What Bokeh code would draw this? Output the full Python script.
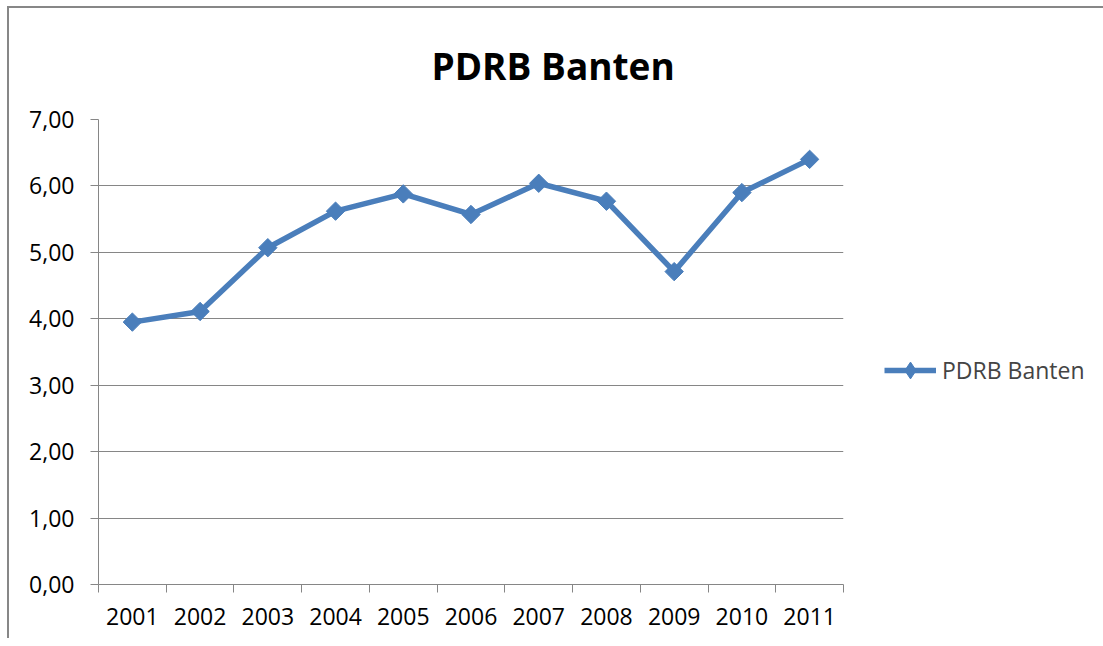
from bokeh.plotting import figure
from bokeh.models import Range1d, FixedTicker, LinearAxis, Legend, LegendItem, Title, Grid
from bokeh.embed import file_html
from bokeh.resources import INLINE
import math

years = ["2001", "2002", "2003", "2004", "2005", "2006", "2007", "2008", "2009", "2010", "2011"]
values = [3.95, 4.11, 5.07, 5.62, 5.88, 5.57, 6.04, 5.77, 4.71, 5.90, 6.40]
y_ticks = [0, 1, 2, 3, 4, 5, 6, 7]
y_labels = ["0,00", "1,00", "2,00", "3,00", "4,00", "5,00", "6,00", "7,00"]
series_name = "PDRB Banten"
title_text = "PDRB Banten"

FONT = "Open Sans"
GRAY = "#868686"
BLUE = "#4A7EBB"

xs = [i + 0.5 for i in range(len(years))]

p = figure(frame_width=745, frame_height=465, output_backend="svg", toolbar_location=None,
           x_range=Range1d(0, len(years)), y_range=Range1d(0, 7),
           x_axis_type=None, y_axis_type=None,
           min_border_left=89, min_border_right=0, min_border_top=111, min_border_bottom=54,
           styles={"border-left": "2px solid #878787", "border-top": "2px solid #878787",
                   "margin-left": "7px", "margin-top": "6px", "padding-right": "30px"})
p.outline_line_color = None
p.background_fill_color = "white"
p.border_fill_color = "white"

# y axis
yaxis = LinearAxis(ticker=FixedTicker(ticks=y_ticks, minor_ticks=[]))
yaxis.major_label_overrides = {t: l for t, l in zip(y_ticks, y_labels)}
yaxis.axis_line_color = GRAY
yaxis.major_tick_line_color = GRAY
yaxis.major_tick_in = 0
yaxis.major_tick_out = 8
yaxis.minor_tick_line_color = None
yaxis.major_label_standoff = 16
yaxis.major_label_text_font = FONT
yaxis.major_label_text_font_size = "23px"
yaxis.major_label_text_color = "black"
p.add_layout(yaxis, "left")

# x axis: labels at centers, ticks at boundaries
xaxis = LinearAxis(ticker=FixedTicker(ticks=xs, minor_ticks=list(range(len(years) + 1))))
xaxis.major_label_overrides = {x: y for x, y in zip(xs, years)}
xaxis.axis_line_color = GRAY
xaxis.major_tick_line_color = None
xaxis.major_tick_in = 0
xaxis.major_tick_out = 0
xaxis.minor_tick_line_color = GRAY
xaxis.minor_tick_in = 0
xaxis.minor_tick_out = 8
xaxis.major_label_standoff = 15
xaxis.major_label_text_font = FONT
xaxis.major_label_text_font_size = "23px"
xaxis.major_label_text_color = "black"
p.add_layout(xaxis, "below")

yg = Grid(dimension=1, ticker=FixedTicker(ticks=y_ticks[1:]), grid_line_color=GRAY, grid_line_width=1)
p.add_layout(yg)

line = p.line(xs, values, line_color=BLUE, line_width=5.5)
legend_marks = p.scatter(xs, values, marker="diamond", size=14,
                         fill_color=BLUE, line_color=BLUE)
marks = p.scatter(xs, values, marker="square", angle=math.pi / 4, size=13,
                  fill_color=BLUE, line_color=BLUE)

legend = Legend(items=[LegendItem(label=series_name, renderers=[line, legend_marks])],
                location=(41, 193), padding=0, margin=0, spacing=0,
                glyph_width=52, glyph_height=42, label_standoff=6,
                label_text_font=FONT, label_text_font_size="23px",
                border_line_color=None, background_fill_alpha=0)
p.add_layout(legend, "right")

t = Title(text=title_text, align="left", offset=333, vertical_align="bottom", text_font=FONT,
          text_font_size="37px", text_font_style="bold", text_color="black", standoff=57)
p.add_layout(t, "above")

open("out.html", "w").write(file_html(p, INLINE))
